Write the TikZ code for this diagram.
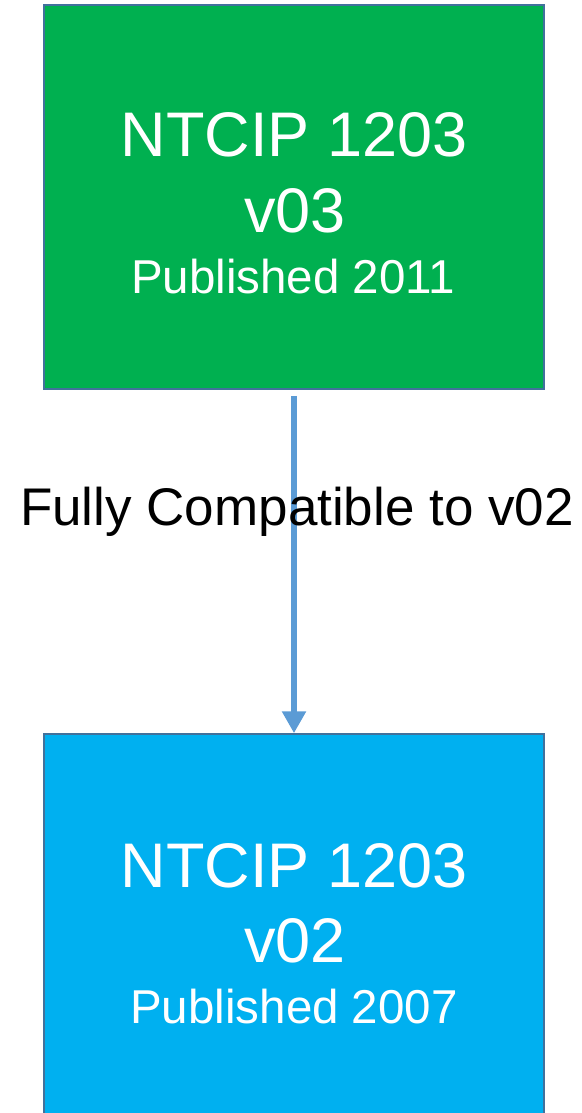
\documentclass[tikz,border=0pt]{standalone}
\usepackage{fontspec}
\setmainfont{Liberation Sans}
\usetikzlibrary{arrows.meta}
\definecolor{stdgreen}{HTML}{00B050}
\definecolor{stdcyan}{HTML}{00B0F0}
\definecolor{stdedge}{HTML}{41719C}
\definecolor{flowblue}{HTML}{5B9BD5}
\tikzset{
  stdbox/.style={draw=stdedge, line width=1.5pt, minimum width=500pt, inner sep=0pt},
  bigtxt/.style={anchor=base, text=white, font=\fontsize{63}{75}\selectfont, inner sep=0pt},
  pubtxt/.style={anchor=base, text=white, font=\fontsize{47.5}{57}\selectfont, inner sep=0pt},
  flow/.style={draw=flowblue, line width=6.5pt, -{Triangle[width=23pt,length=22pt]}}
}
\begin{document}
\begin{tikzpicture}[x=1pt,y=-1pt]
    \useasboundingbox (0,0) rectangle (581,1113);
    \node (v3) [stdbox, fill=stdgreen, minimum height=384pt] at (294,197) {};
    \node (v2) [stdbox, fill=stdcyan, minimum height=390pt] at (294,929) {};
    \node (v3name) [bigtxt] at (294,157) {NTCIP 1203};
    \node (v3ver)  [bigtxt] at (295,232) {v03};
    \node (v3pub)  [pubtxt] at (293,293) {Published 2011};
    \node (v2name) [bigtxt] at (294,887) {NTCIP 1203};
    \node (v2ver)  [bigtxt] at (295,962) {v02};
    \node (v2pub)  [pubtxt] at (294,1023) {Published 2007};
    \draw[flow] ([yshift=-6pt]v3.south) -- (v2.north);
    \node (compat) [anchor=base, inner sep=0pt, font=\fontsize{53}{64}\selectfont] at (297,525) {Fully Compatible to v02};
\end{tikzpicture}
\end{document}
